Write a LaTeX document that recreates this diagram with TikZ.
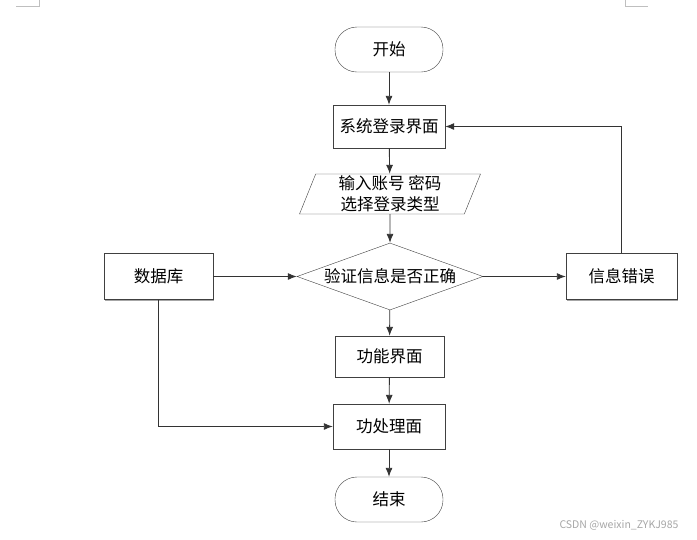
\documentclass[tikz,border=0pt]{standalone}
\usepackage{fontspec}
\setmainfont{Noto Sans CJK SC}
\usetikzlibrary{shapes.geometric,shadows,arrows.meta}

\tikzset{
	box/.style={draw=black!75,fill=white,minimum width=112pt,minimum height=44pt,inner sep=0pt,
		general shadow={shadow xshift=1pt,shadow yshift=-1pt,fill=black!35}},
	terminal/.style={draw=black!75,fill=white,rounded corners=22pt,minimum width=108pt,minimum height=45pt,inner sep=0pt},
	io/.style={draw=black!75,fill=white,trapezium,trapezium left angle=66,trapezium right angle=114,
		trapezium stretches body,minimum width=181pt,minimum height=40pt,inner sep=0pt,align=center},
	decision/.style={draw=black!75,fill=white,diamond,aspect=2.78,minimum width=186pt,minimum height=67pt,inner sep=0pt},
	flow/.style={-{Latex[length=9pt,width=7pt]},draw=black!80,line width=0.9pt},
}

\begin{document}
\begin{tikzpicture}[x=1pt,y=-1pt,font=\fontsize{16.5pt}{21pt}\selectfont]
	\useasboundingbox (0,0) rectangle (697,539);
	
	% corner marks
	\draw[black!25] (16,6) -- (39,6) -- (39,0);
	\draw[black!25] (625,0) -- (625,6) -- (648,6);
	
	% main column
	\node[terminal] (start) at (389,49.5) {开始};
	\node[box,minimum height=43pt] (login) at (389,126.5) {系统登录界面};
	\node[io] (input) at (390,194) {输入账号 密码\\选择登录类型};
	\node[decision] (check) at (390,276.5) {验证信息是否正确};
	\node[box,minimum width=109pt,minimum height=41pt] (menu) at (389.5,356.5) {功能界面};
	\node[box,minimum height=45pt] (work) at (389,426.5) {功处理面};
	\node[terminal] (stop) at (389,499.5) {结束};
	
	% side boxes
	\node[box,minimum width=109pt,minimum height=46pt] (db) at (158.5,276.5) {数据库};
	\node[box,minimum width=111pt,minimum height=46pt] (err) at (621.5,276.5) {信息错误};
	
	\draw[flow] (start) -- (login);
	\draw[flow] (login) -- (input);
	\draw[flow] (input) -- (check);
	\draw[flow] (db) -- (check);
	\draw[flow] (check) -- (err);
	\draw[flow] (check) -- (menu);
	\draw[flow] (menu) -- (work);
	\draw[flow] (work) -- (stop);
	\draw[flow] (err.north) |- (login.east);
	\draw[flow] (db.south) |- (work.west);
	
	\node[text=black!35,font=\fontsize{10.5pt}{12pt}\selectfont] (mark) at (619,525) {CSDN @weixin\_ZYKJ985};
\end{tikzpicture}
\end{document}
